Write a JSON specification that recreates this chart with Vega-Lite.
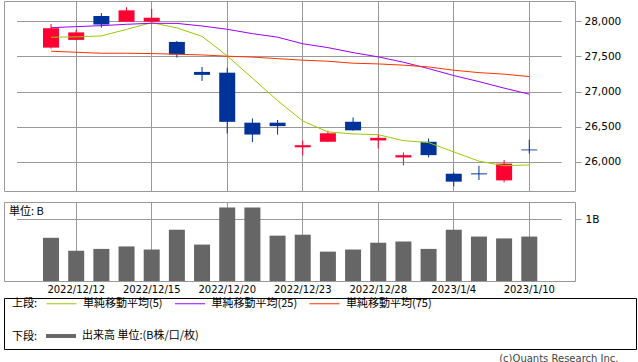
{
  "$schema": "https://vega.github.io/schema/vega-lite/v6.json",
  "padding": {"left": 3, "top": 0, "right": 0, "bottom": 0},
  "background": "white",
  "spacing": 2,
  "title": {"text": "(c)Quants Research Inc.", "orient": "bottom", "anchor": "end", "font": "DejaVu Sans", "fontSize": 10, "fontWeight": "normal", "color": "#444444", "offset": 4, "dx": -18},
  "config": {
    "font": "DejaVu Sans",
    "axis": {"labelColor": "#000000", "tickColor": "#999999", "gridColor": "#999999", "gridOpacity": 1, "labelFont": "DejaVu Sans", "labelFontSize": 10.5, "titleFontWeight": "normal"},
    "view": {"stroke": "#999999"}
  },
  "datasets": {
    "px": [
      {"d": "2022/12/9", "o": 27625, "h": 27962, "l": 27610, "c": 27901, "ma5": 27773, "ma25": 27909, "ma75": 27574, "v": 0.70},
      {"d": "2022/12/12", "o": 27735, "h": 27880, "l": 27730, "c": 27842, "ma5": 27778, "ma25": 27924, "ma75": 27559, "v": 0.49},
      {"d": "2022/12/13", "o": 28075, "h": 28118, "l": 27910, "c": 27954, "ma5": 27791, "ma25": 27938, "ma75": 27545, "v": 0.52},
      {"d": "2022/12/14", "o": 27994, "h": 28200, "l": 27990, "c": 28156, "ma5": 27885, "ma25": 27957, "ma75": 27545, "v": 0.56},
      {"d": "2022/12/15", "o": 27995, "h": 28175, "l": 27985, "c": 28051, "ma5": 27981, "ma25": 27972, "ma75": 27540, "v": 0.51},
      {"d": "2022/12/16", "o": 27706, "h": 27720, "l": 27483, "c": 27527, "ma5": 27906, "ma25": 27970, "ma75": 27531, "v": 0.83},
      {"d": "2022/12/19", "o": 27279, "h": 27350, "l": 27151, "c": 27237, "ma5": 27785, "ma25": 27933, "ma75": 27521, "v": 0.59},
      {"d": "2022/12/20", "o": 27268, "h": 27338, "l": 26402, "c": 26568, "ma5": 27508, "ma25": 27886, "ma75": 27503, "v": 1.19},
      {"d": "2022/12/21", "o": 26556, "h": 26616, "l": 26280, "c": 26387, "ma5": 27190, "ma25": 27824, "ma75": 27490, "v": 1.19},
      {"d": "2022/12/22", "o": 26556, "h": 26595, "l": 26386, "c": 26507, "ma5": 26870, "ma25": 27774, "ma75": 27468, "v": 0.735},
      {"d": "2022/12/23", "o": 26205, "h": 26300, "l": 26090, "c": 26235, "ma5": 26580, "ma25": 27680, "ma75": 27446, "v": 0.75},
      {"d": "2022/12/26", "o": 26284, "h": 26441, "l": 26280, "c": 26405, "ma5": 26425, "ma25": 27625, "ma75": 27431, "v": 0.476},
      {"d": "2022/12/27", "o": 26569, "h": 26630, "l": 26440, "c": 26447, "ma5": 26396, "ma25": 27554, "ma75": 27403, "v": 0.51},
      {"d": "2022/12/28", "o": 26303, "h": 26394, "l": 26189, "c": 26340, "ma5": 26385, "ma25": 27493, "ma75": 27393, "v": 0.62},
      {"d": "2022/12/29", "o": 26061, "h": 26132, "l": 25947, "c": 26093, "ma5": 26300, "ma25": 27417, "ma75": 27375, "v": 0.64},
      {"d": "2022/12/30", "o": 26284, "h": 26331, "l": 26061, "c": 26094, "ma5": 26272, "ma25": 27326, "ma75": 27350, "v": 0.52},
      {"d": "2023/1/4", "o": 25829, "h": 25848, "l": 25649, "c": 25716, "ma5": 26140, "ma25": 27227, "ma75": 27303, "v": 0.83},
      {"d": "2023/1/5", "o": 25834, "h": 25943, "l": 25740, "c": 25820, "ma5": 26008, "ma25": 27141, "ma75": 27269, "v": 0.72},
      {"d": "2023/1/6", "o": 25734, "h": 26024, "l": 25706, "c": 25973, "ma5": 25943, "ma25": 27048, "ma75": 27247, "v": 0.69},
      {"d": "2023/1/10", "o": 26174, "h": 26313, "l": 26118, "c": 26162, "ma5": 25954, "ma25": 26962, "ma75": 27212, "v": 0.72}
    ]
  },
  "vconcat": [
    {
      "width": 571,
      "height": 190,
      "view": {"stroke": "#999999"},
      "data": {"name": "px"},
      "encoding": {
        "x": {
          "field": "d", "type": "ordinal", "sort": null,
          "scale": {"paddingInner": 0.36, "paddingOuter": 1, "range": [13.8, 558.5]},
          "axis": {"title": null, "labels": false, "ticks": true, "tickSize": 7, "tickOpacity": 0, "domain": false, "grid": true, "bandPosition": 0.5,
                   "values": ["2022/12/12", "2022/12/15", "2022/12/20", "2022/12/23", "2022/12/28", "2023/1/4", "2023/1/10"]}
        }
      },
      "layer": [
        {
          "mark": {"type": "rule", "strokeWidth": 1},
          "encoding": {
            "y": {"field": "l", "type": "quantitative", "title": null,
                  "scale": {"domain": [25583, 28289], "zero": false, "nice": false},
                  "axis": {"orient": "right", "values": [26000, 26500, 27000, 27500, 28000], "format": ",d", "tickSize": 6, "labelPadding": 3, "domain": false, "grid": true, "title": null}},
            "y2": {"field": "h"},
            "color": {"condition": {"test": "datum.c >= datum.o", "value": "#ff0033"}, "value": "#003399"}
          }
        },
        {
          "mark": {"type": "bar", "width": 16},
          "encoding": {
            "y": {"field": "o", "type": "quantitative", "title": null},
            "y2": {"field": "c"},
            "color": {"condition": {"test": "datum.c >= datum.o", "value": "#ff0033"}, "value": "#003399"}
          }
        },
        {
          "transform": [{"fold": ["ma5", "ma25", "ma75"], "as": ["s", "val"]}],
          "mark": {"type": "line", "strokeWidth": 1},
          "encoding": {
            "y": {"field": "val", "type": "quantitative", "title": null},
            "stroke": {
              "field": "s", "type": "nominal",
              "scale": {"domain": ["ma5", "ma25", "ma75"], "range": ["#99cc00", "#9900ff", "#ff3300"]},
              "legend": {
                "orient": "none", "legendX": 8, "legendY": 287, "direction": "horizontal",
                "title": "上段:", "titleOrient": "left", "titleAnchor": "middle", "titleBaseline": "top", "titleFont": "Noto Sans CJK JP", "titleFontSize": 11, "titleFontWeight": "normal", "titleColor": "#000000", "titlePadding": 8,
                "symbolType": "stroke", "symbolSize": 900, "symbolStrokeWidth": 1,
                "labelFont": "Noto Sans CJK JP", "labelFontSize": 11, "labelColor": "#000000", "labelOffset": 6, "columnPadding": 9.5, "labelLimit": 300,
                "labelExpr": "datum.label == 'ma5' ? '単純移動平均(5)' : datum.label == 'ma25' ? '単純移動平均(25)' : '単純移動平均(75)'"
              }
            }
          }
        }
      ]
    },
    {
      "width": 571,
      "height": 79,
      "view": {"stroke": "#999999"},
      "title": {"text": "単位: B", "anchor": "start", "offset": -15, "dx": 5, "font": "Noto Sans CJK JP", "fontSize": 11, "fontWeight": "normal", "color": "#000000"},
      "data": {"name": "px"},
      "mark": {"type": "bar", "width": 16},
      "encoding": {
        "x": {
          "field": "d", "type": "ordinal", "sort": null,
          "scale": {"paddingInner": 0.36, "paddingOuter": 1, "range": [13.8, 558.5]},
          "axis": {"title": null, "labels": true, "labelAngle": 0, "labelFontSize": 10, "labelPadding": 3, "ticks": false, "domain": false, "grid": true, "bandPosition": 0.5,
                   "values": ["2022/12/12", "2022/12/15", "2022/12/20", "2022/12/23", "2022/12/28", "2023/1/4", "2023/1/10"]}
        },
        "y": {
          "field": "v", "type": "quantitative", "title": null,
          "scale": {"domain": [0, 1.28], "nice": false},
          "axis": {"orient": "right", "values": [1], "labelExpr": "datum.value + 'B'", "tickSize": 6, "labelPadding": 4, "domain": false, "grid": true, "title": null}
        },
        "fill": {
          "datum": "出来高 単位:(B株/口/枚)", "type": "nominal",
          "scale": {"range": ["#666666"]},
          "legend": {
            "orient": "none", "legendX": 8, "legendY": 320,
            "title": "下段:", "titleOrient": "left", "titleAnchor": "middle", "titleBaseline": "top", "titleFont": "Noto Sans CJK JP", "titleFontSize": 11, "titleFontWeight": "normal", "titleColor": "#000000", "titlePadding": 8,
            "symbolType": "M-1,-0.13L1,-0.13L1,0.13L-1,0.13Z", "symbolSize": 900, "symbolStrokeWidth": 0,
            "labelFont": "Noto Sans CJK JP", "labelFontSize": 11, "labelColor": "#000000", "labelOffset": 6, "labelLimit": 300
          }
        }
      }
    },
    {
      "width": 632,
      "height": 51,
      "view": {"stroke": "#000000"},
      "data": {"values": []},
      "mark": "point",
      "encoding": {}
    }
  ]
}
